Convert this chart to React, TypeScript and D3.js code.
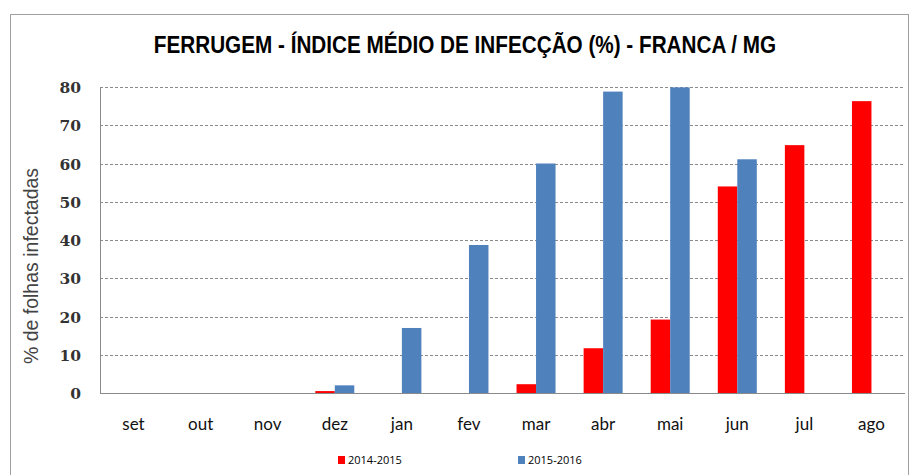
import React from "react";
import * as d3 from "d3";

const months = ["set", "out", "nov", "dez", "jan", "fev", "mar", "abr", "mai", "jun", "jul", "ago"];
const series1415 = [0, 0, 0, 0.5, 0, 0, 2.3, 11.7, 19.2, 54, 64.8, 76.3];
const series1516: (number | null)[] = [null, null, null, 2, 17, 38.7, 60, 78.8, 79.9, 61.1, null, null];
const seriesNames = ["2014-2015", "2015-2016"];
const seriesColors = ["#ff0000", "#4f81bd"];
const yTicks = [0, 10, 20, 30, 40, 50, 60, 70, 80];
const title = "FERRUGEM - ÍNDICE MÉDIO DE INFECÇÃO (%) - FRANCA / MG";
const yTitle = "% de folhas infectadas";

export default function App() {
  const W = 912, H = 475;
  const left = 100, right = 905, top = 87, bottom = 393;
  const x = d3.scaleBand<string>().domain(months).range([left, right]).paddingInner(0).paddingOuter(0);
  const y = d3.scaleLinear().domain([0, 80]).range([bottom, top]);
  const barW = 19.5;
  const data = [series1415, series1516];

  return (
    <svg width={W} height={H} style={{ position: "absolute", left: 0, top: 0, background: "#fff" }}>
      <rect x={10.5} y={14.5} width={898} height={470} fill="#fff" stroke="#a0a0a0" strokeWidth={1} />
      <text transform="translate(465,53) scale(0.9,1)" textAnchor="middle" fontFamily="'Liberation Sans', Arial, sans-serif" fontWeight="bold" fontSize={23} fill="#000">{title}</text>
      {yTicks.map((t) => (
        <g key={t}>
          {t > 0 && (
            <line x1={left} x2={right} y1={Math.round(y(t)) + 0.5} y2={Math.round(y(t)) + 0.5} stroke="#8a8a8a" strokeDasharray="3,2" strokeWidth={1} />
          )}
          <text x={81} y={y(t) + 6} textAnchor="end" fontFamily="'DejaVu Serif', 'Liberation Serif', serif" fontWeight="bold" fontSize={15.5} fill="#333">{t}</text>
        </g>
      ))}
      {data.map((s, si) =>
        s.map((v, i) =>
          v == null || v <= 0 ? null : (
            <rect key={`${si}-${i}`} x={(x(months[i]) as number) + x.bandwidth() / 2 - barW + si * barW} y={y(v)} width={barW} height={bottom - y(v)} fill={seriesColors[si]} />
          )
        )
      )}
      <line x1={left + 0.5} x2={left + 0.5} y1={top} y2={bottom} stroke="#8a8a8a" />
      <line x1={left} x2={right} y1={bottom + 0.5} y2={bottom + 0.5} stroke="#8a8a8a" />
      {months.map((m) => (
        <text key={m} x={(x(m) as number) + x.bandwidth() / 2} y={430} textAnchor="middle" fontFamily="Lato, 'Open Sans', sans-serif" fontSize={17} fill="#111">{m}</text>
      ))}
      <text transform={`translate(38,266) rotate(-90)`} textAnchor="middle" fontFamily="'Liberation Sans', Arial, sans-serif" fontSize={19.5} fill="#444">{yTitle}</text>
      {seriesNames.map((n, i) => (
        <g key={n} transform={`translate(338,0)`}>
          <rect x={i * 180} y={456} width={7} height={8} fill={seriesColors[i]} />
          <text x={i * 180 + 10} y={464} fontFamily="'Open Sans', Lato, sans-serif" fontSize={11} fill="#000">{n}</text>
        </g>
      ))}
    </svg>
  );
}
